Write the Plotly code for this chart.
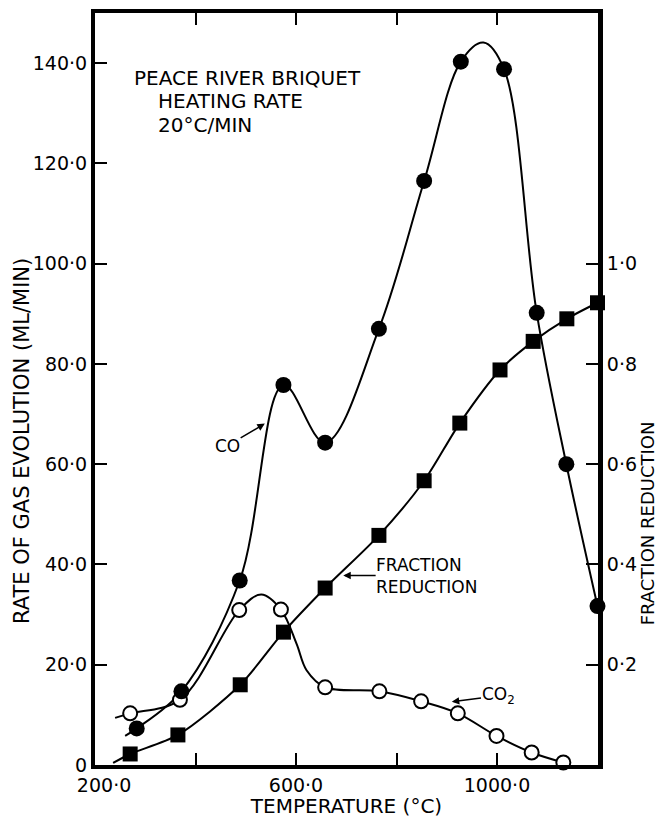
import plotly.graph_objects as go

# ---- data ----
co_temp = [283, 372, 488, 575, 658, 765, 855, 928, 1014, 1079, 1138, 1200]
co_rate = [7.3, 14.7, 36.8, 75.8, 64.3, 87.0, 116.5, 140.3, 138.8, 90.2, 60.0, 31.7]

co2_temp = [270, 369, 487, 570, 658, 766, 849, 922, 999, 1069, 1132]
co2_rate = [10.3, 13.0, 30.9, 31.0, 15.5, 14.7, 12.7, 10.3, 5.8, 2.5, 0.5]

frac_temp = [270, 365, 489, 575, 658, 765, 855, 926, 1006, 1072, 1139, 1200]
frac_red = [0.022, 0.060, 0.160, 0.265, 0.353, 0.458, 0.567, 0.682, 0.788, 0.845, 0.890, 0.922]

# drawn curves
co_curve_temp = [260, 283, 372, 488, 575, 658, 765, 855, 928, 973, 1014, 1079, 1138, 1200]
co_curve_rate = [5.8, 7.3, 14.7, 36.8, 75.8, 64.3, 87.0, 116.5, 140.3, 144.1, 138.8, 90.2, 60.0, 31.7]

co2_curve_temp = [240, 270, 369, 487, 531, 570, 601, 621, 658, 766, 849, 922, 999, 1069, 1132]
co2_curve_rate = [9.4, 10.3, 13.0, 30.9, 34.0, 31.0, 24.2, 18.9, 15.5, 14.7, 12.7, 10.3, 5.8, 2.5, 0.5]

frac_curve_temp = [236] + frac_temp
frac_curve_red = [0.004] + frac_red

x_ticks = [200, 600, 1000]
x_ticktext = ["\u00a0\u00a0\u00a0200·0", "600·0", "1000·0"]
x_minor_ticks = [400, 800]
y_ticks = [0, 20, 40, 60, 80, 100, 120, 140]
y_ticktext = ["0", "20·0", "40·0", "60·0", "80·0", "100·0", "120·0", "140·0"]
y2_ticks = [0.2, 0.4, 0.6, 0.8, 1.0]
y2_ticktext = ["0·2", "0·4", "0·6", "0·8", "1·0"]

FONT = "DejaVu Sans"
BLACK = "black"

fig = go.Figure()

# curves
fig.add_trace(go.Scatter(x=co_curve_temp, y=co_curve_rate, mode="lines",
                         line=dict(color=BLACK, width=2, shape="spline", smoothing=1.0),
                         showlegend=False, hoverinfo="skip"))
fig.add_trace(go.Scatter(x=co2_curve_temp, y=co2_curve_rate, mode="lines",
                         line=dict(color=BLACK, width=2, shape="spline", smoothing=1.0),
                         showlegend=False, hoverinfo="skip"))
fig.add_trace(go.Scatter(x=frac_curve_temp, y=frac_curve_red, mode="lines", yaxis="y2",
                         line=dict(color=BLACK, width=2, shape="spline", smoothing=0.8),
                         showlegend=False, hoverinfo="skip"))

# markers
fig.add_trace(go.Scatter(x=frac_temp, y=frac_red, mode="markers", yaxis="y2",
                         marker=dict(symbol="square", size=15, color=BLACK),
                         showlegend=False, cliponaxis=False))
fig.add_trace(go.Scatter(x=co2_temp, y=co2_rate, mode="markers",
                         marker=dict(symbol="circle", size=14, color="white",
                                     line=dict(color=BLACK, width=2)),
                         showlegend=False, cliponaxis=False))
fig.add_trace(go.Scatter(x=co_temp, y=co_rate, mode="markers",
                         marker=dict(symbol="circle", size=16, color=BLACK),
                         showlegend=False, cliponaxis=False))

# text annotations
title_font = dict(family=FONT, size=20, color=BLACK)
fig.add_annotation(x=274, y=137, text="PEACE RIVER BRIQUET", showarrow=False,
                   xanchor="left", yanchor="middle", font=title_font)
fig.add_annotation(x=322, y=132.5, text="HEATING RATE", showarrow=False,
                   xanchor="left", yanchor="middle", font=title_font)
fig.add_annotation(x=322, y=127.7, text="20°C/MIN", showarrow=False,
                   xanchor="left", yanchor="middle", font=title_font)

lab_font = dict(family=FONT, size=17, color=BLACK)
arrow_kw = dict(showarrow=True, arrowhead=2, arrowsize=1, arrowwidth=1.5,
                arrowcolor=BLACK, axref="x", ayref="y", standoff=0, borderpad=0)
fig.add_annotation(x=538, y=68.1, ax=464, ay=63.7, text="CO", font=lab_font, **arrow_kw)
fig.add_annotation(x=694, y=37.8, ax=860, ay=37.8, text="FRACTION<br>REDUCTION",
                   align="left", font=lab_font, **arrow_kw)
fig.add_annotation(x=910, y=12.6, ax=1002, ay=13.8, text="CO<sub>2</sub>",
                   font=lab_font, **arrow_kw)

axis_title_font = dict(family=FONT, size=21, color=BLACK)
# y-axis titles (placed off-centre, as in the original)
fig.add_annotation(xref="paper", yref="paper", x=-0.145, y=0.431, textangle=-90,
                   text="RATE OF GAS EVOLUTION (ML/MIN)", showarrow=False,
                   xanchor="center", yanchor="middle", font=axis_title_font)
fig.add_annotation(xref="paper", yref="paper", x=1.0984, y=0.322, textangle=-90,
                   text="FRACTION REDUCTION", showarrow=False,
                   xanchor="center", yanchor="middle", font=dict(family=FONT, size=18, color=BLACK))

tick_font = dict(family=FONT, size=19, color=BLACK)

fig.update_layout(
    width=658, height=818,
    margin=dict(l=95, r=60, t=13, b=53, autoexpand=False),
    paper_bgcolor="white", plot_bgcolor="white",
    showlegend=False,
    xaxis=dict(range=[200, 1201], tickvals=x_ticks, ticktext=x_ticktext, automargin=False,
               showgrid=False, zeroline=False, showline=True, linecolor=BLACK, linewidth=4,
               mirror="ticks", ticks="inside", ticklen=12, tickwidth=2, tickcolor=BLACK,
               minor=dict(tickvals=x_minor_ticks, ticks="inside", ticklen=12, tickwidth=2,
                          tickcolor=BLACK, showgrid=False),
               tickfont=tick_font,
               title=dict(text="TEMPERATURE (°C)", font=dict(family=FONT, size=20, color=BLACK),
                          standoff=7)),
    yaxis=dict(range=[0, 150], tickvals=y_ticks, ticktext=y_ticktext, automargin=False,
               showgrid=False, zeroline=False, showline=True, linecolor=BLACK, linewidth=4,
               ticks="inside", ticklen=12, tickwidth=2, tickcolor=BLACK,
               tickfont=tick_font),
    yaxis2=dict(range=[0, 1.5], tickvals=y2_ticks, ticktext=y2_ticktext, overlaying="y",
                automargin=False,
                side="right", showgrid=False, zeroline=False, showline=True, linecolor=BLACK,
                linewidth=5, ticks="inside", ticklen=12, tickwidth=2, tickcolor=BLACK,
                tickfont=tick_font),
)

fig.write_html("out.html")
